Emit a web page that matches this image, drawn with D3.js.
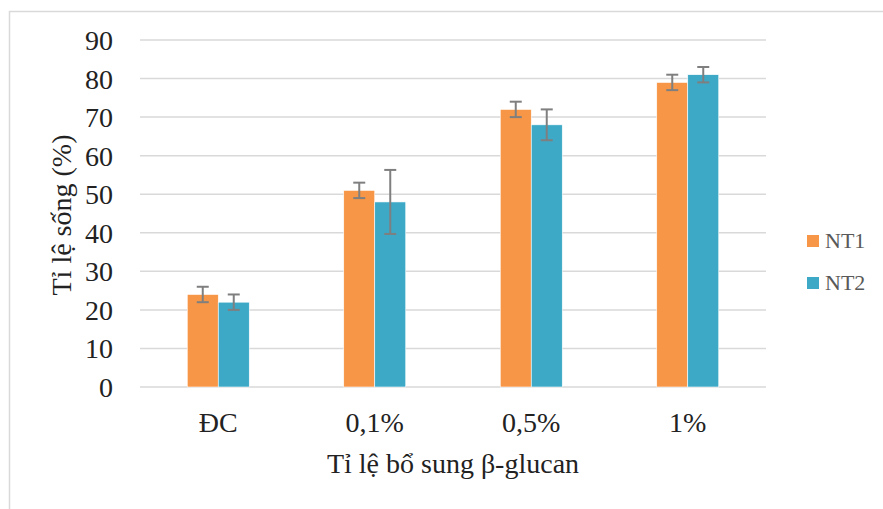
<!DOCTYPE html>
<html>
<head>
<meta charset="utf-8">
<script src="https://cdn.jsdelivr.net/npm/d3@7"></script>
<style>
  body { margin: 0; background: #fff; }
</style>
</head>
<body>
<script>
  var categories = ["ĐC", "0,1%", "0,5%", "1%"],
      seriesNames = ["NT1", "NT2"],
      nt1 = [24, 51, 72, 79],
      nt2 = [22, 48, 68, 81],
      nt1Err = [2, 2, 2, 2],
      nt2Err = [2, 8.3, 4, 2],
      yTicks = [0, 10, 20, 30, 40, 50, 60, 70, 80, 90];

  var width = 883,
      height = 509,
      serif = "Liberation Serif",
      colors = ["#F79646", "#3DA9C7"];

  var svg = d3.select("body")
    .append("svg")
      .attr("width", width)
      .attr("height", height)
      .attr("font-family", serif);

  // outer chart border (only top and left visible in the frame)
  svg.append("rect")
    .attr("x", 9.5).attr("y", 11.5)
    .attr("width", 900).attr("height", 520)
    .attr("fill", "none")
    .attr("stroke", "#d9d9d9")
    .attr("stroke-width", 1.5);

  var x = d3.scaleBand()
    .domain(categories)
    .range([140, 766]);

  var inner = d3.scaleBand()
    .domain(seriesNames)
    .range([0, 62]);

  var y = d3.scaleLinear()
    .domain([0, 90])
    .range([387, 40]);

  // gridlines
  svg.append("g")
    .selectAll("line")
    .data(yTicks)
    .enter()
    .append("line")
      .attr("x1", 140).attr("x2", 766)
      .attr("y1", function(d) { return y(d); })
      .attr("y2", function(d) { return y(d); })
      .attr("stroke", "#d9d9d9")
      .attr("stroke-width", 1.5);

  // y axis labels
  var yAxis = d3.axisLeft(y).tickValues(yTicks).tickSize(0).tickPadding(0);
  var yg = svg.append("g")
    .attr("transform", "translate(113,0)")
    .call(yAxis);
  yg.select(".domain").remove();
  yg.selectAll("text")
    .attr("font-family", serif)
    .attr("font-size", 28)
    .attr("fill", "#222")
    .attr("dy", "0.34em");

  // x axis labels
  var xAxis = d3.axisBottom(x).tickSize(0).tickPadding(0);
  var xg = svg.append("g")
    .attr("transform", "translate(0,432)")
    .call(xAxis);
  xg.select(".domain").remove();
  xg.selectAll("text")
    .attr("font-family", serif)
    .attr("font-size", 28)
    .attr("fill", "#222")
    .attr("dy", 0);

  var rows = categories.map(function(c, i) {
    return [
      { cat: c, key: "NT1", v: nt1[i], e: nt1Err[i], color: colors[0] },
      { cat: c, key: "NT2", v: nt2[i], e: nt2Err[i], color: colors[1] }
    ];
  });

  var group = svg.selectAll(".group")
    .data(rows)
    .enter()
    .append("g")
      .attr("class", "group")
      .attr("transform", function(d) {
        var cx = x(d[0].cat) + x.bandwidth() / 2 - 31;
        return "translate(" + cx + ",0)";
      });

  group.selectAll("rect")
    .data(function(d) { return d; })
    .enter()
    .append("rect")
      .attr("x", function(d) { return inner(d.key); })
      .attr("width", inner.bandwidth())
      .attr("y", function(d) { return y(d.v); })
      .attr("height", function(d) { return y(0) - y(d.v); })
      .attr("fill", function(d) { return d.color; })
      .attr("stroke", "#fff")
      .attr("stroke-width", 0.6);

  var err = group.selectAll(".err")
    .data(function(d) { return d; })
    .enter()
    .append("g")
      .attr("class", "err")
      .attr("stroke", "#7f7f7f")
      .attr("stroke-width", 2);

  err.append("line")
    .attr("x1", function(d) { return inner(d.key) + inner.bandwidth() / 2; })
    .attr("x2", function(d) { return inner(d.key) + inner.bandwidth() / 2; })
    .attr("y1", function(d) { return y(d.v + d.e); })
    .attr("y2", function(d) { return y(d.v - d.e); });

  [1, -1].forEach(function(s) {
    err.append("line")
      .attr("x1", function(d) { return inner(d.key) + inner.bandwidth() / 2 - 6; })
      .attr("x2", function(d) { return inner(d.key) + inner.bandwidth() / 2 + 6; })
      .attr("y1", function(d) { return y(d.v + s * d.e); })
      .attr("y2", function(d) { return y(d.v + s * d.e); });
  });

  // axis titles
  svg.append("text")
    .attr("transform", "translate(71,215) rotate(-90)")
    .attr("text-anchor", "middle")
    .attr("font-family", serif)
    .attr("font-size", 28)
    .attr("fill", "#222")
    .text("Tỉ lệ sống (%)");

  svg.append("text")
    .attr("x", 453)
    .attr("y", 473)
    .attr("text-anchor", "middle")
    .attr("font-family", serif)
    .attr("font-size", 28)
    .attr("fill", "#222")
    .text("Tỉ lệ bổ sung β-glucan");

  // legend
  var legend = svg.selectAll(".legend")
    .data(seriesNames)
    .enter()
    .append("g")
      .attr("class", "legend")
      .attr("transform", function(d, i) { return "translate(807," + (235 + i * 42) + ")"; });

  legend.append("rect")
    .attr("width", 12).attr("height", 12)
    .attr("fill", function(d, i) { return colors[i]; });

  legend.append("text")
    .attr("x", 18)
    .attr("y", 13)
    .attr("font-family", serif)
    .attr("font-size", 22)
    .attr("fill", "#595959")
    .text(function(d) { return d; });
</script>
</body>
</html>
